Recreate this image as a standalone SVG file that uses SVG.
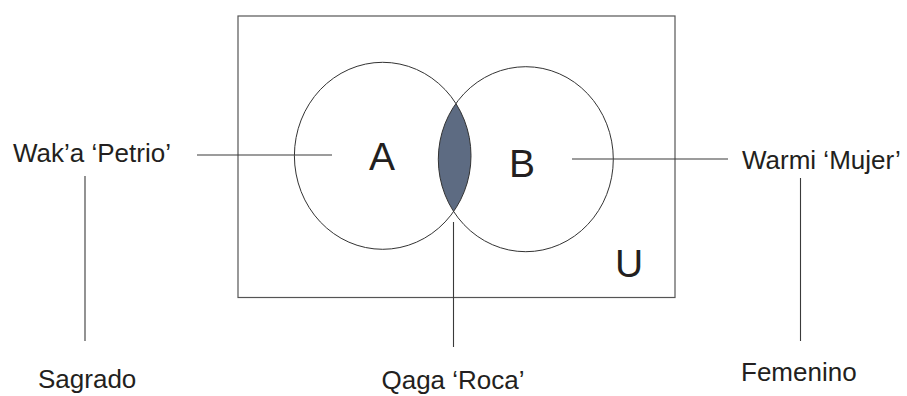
<svg xmlns="http://www.w3.org/2000/svg" width="907" height="396" viewBox="0 0 907 396">
<style>
.ln{stroke:#3a3a3a;stroke-width:1.1;fill:none}
.sh{stroke:#333;stroke-width:1;fill:none}
.lbl{font-family:"Liberation Sans",Arial,sans-serif;font-size:26px;fill:#231f20}
.big{font-family:"Liberation Sans",Arial,sans-serif;font-size:39px;fill:#231f20;text-anchor:middle}
</style>
<defs>
<clipPath id="clipA"><ellipse cx="382.7" cy="155.8" rx="88.3" ry="93.5"/></clipPath>
</defs>
<g id="universe">
<rect x="238" y="16" width="437" height="281.5" fill="#fff" stroke="#555" stroke-width="1.2"/>
<text class="big" x="629" y="277">U</text>
</g>
<g id="lens">
<ellipse cx="525.8" cy="159.2" rx="87.5" ry="92.5" fill="#5d6b82" clip-path="url(#clipA)"/>
</g>
<g id="setA">
<ellipse class="sh" cx="382.7" cy="155.8" rx="88.3" ry="93.5"/>
<text class="big" x="382" y="170">A</text>
</g>
<g id="setB">
<ellipse class="sh" cx="525.8" cy="159.2" rx="87.5" ry="92.5"/>
<text class="big" x="522" y="177">B</text>
</g>
<g id="connectors">
<line class="ln" x1="197" y1="155" x2="332" y2="155"/>
<line class="ln" x1="85" y1="176" x2="85" y2="341"/>
<line class="ln" x1="572" y1="159" x2="728" y2="159"/>
<line class="ln" x1="800.5" y1="178" x2="800.5" y2="341"/>
<line class="ln" x1="453.5" y1="222" x2="453.5" y2="347"/>
</g>
<g id="label-petrio"><text class="lbl" x="13" y="162">Wak’a ‘Petrio’</text></g>
<g id="label-sagrado"><text class="lbl" x="38" y="388">Sagrado</text></g>
<g id="label-mujer"><text class="lbl" x="742" y="169">Warmi ‘Mujer’</text></g>
<g id="label-femenino"><text class="lbl" x="741" y="381">Femenino</text></g>
<g id="label-roca"><text class="lbl" x="453" y="389" text-anchor="middle">Qaga ‘Roca’</text></g>
</svg>
